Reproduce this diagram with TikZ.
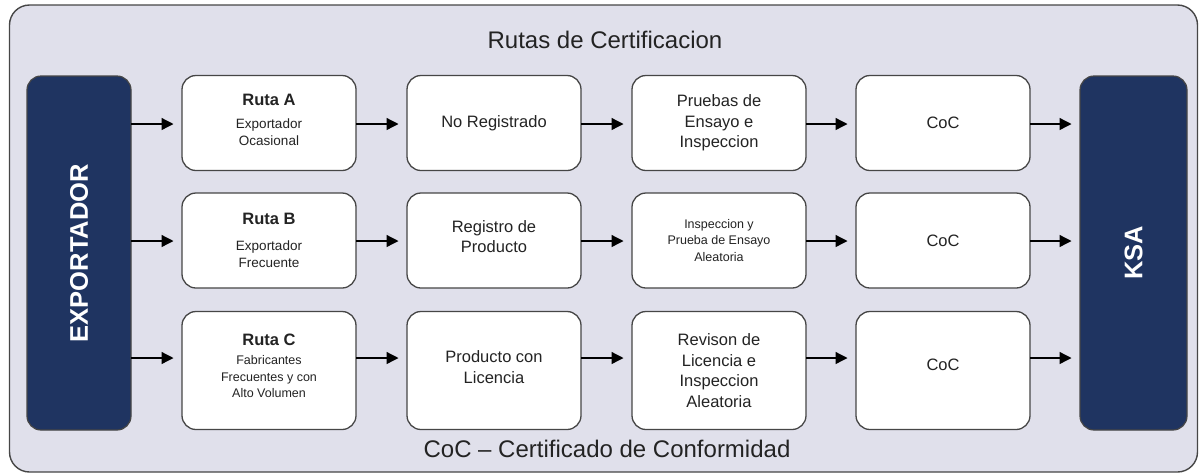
\documentclass[tikz,border=0pt]{standalone}
\usepackage{fontspec}
\setmainfont{Liberation Sans}
\usetikzlibrary{arrows.meta}
\definecolor{navy}{RGB}{31,52,97}
\definecolor{lav}{RGB}{224,224,235}
\definecolor{bord}{RGB}{70,70,70}
\definecolor{txt}{RGB}{35,35,35}
\tikzset{
  frame/.style={draw=bord, fill=lav, line width=1.4pt, rounded corners=20pt, minimum width=1188pt, minimum height=467pt, inner sep=0pt, outer sep=0pt},
  wbox/.style={draw=bord, fill=white, line width=1.3pt, rounded corners=14pt, minimum width=174pt, minimum height=95pt, inner sep=0pt, outer sep=0pt, align=center, text=txt, font=\fontsize{16.5}{20.5}\selectfont},
  tallbox/.style={wbox, minimum height=118pt},
  plain/.style={wbox, draw=none, fill=none},
  nbox/.style={draw=bord, fill=navy, line width=1.2pt, rounded corners=14pt, minimum height=354pt, inner sep=0pt, outer sep=0pt},
  ntext/.style={rotate=90, text=white, font=\bfseries\fontsize{25.5}{30}\selectfont},
  arr/.style={line width=1.3pt, -{Triangle[length=12pt,width=12pt]}, shorten >=8.5pt},
  ttl/.style={text=txt, font=\fontsize{24}{28}\selectfont},
}
\newcommand{\rtfont}{\bfseries\fontsize{16.5}{19}\selectfont}
\newcommand{\subfont}{\mdseries\fontsize{13.5}{16}\selectfont}
\newcommand{\smfont}{\mdseries\fontsize{12.5}{16.5}\selectfont}
\begin{document}
\begin{tikzpicture}[x=1pt,y=-1pt]
\useasboundingbox (0,0) rectangle (1199,475);
\node[frame] (fr) at (603.5,238.5) {};
\node[ttl] (title) at (605,40) {Rutas de Certificacion};
\node[ttl] (foot) at (607,449) {CoC – Certificado de Conformidad};

\node[nbox, minimum width=104pt] (exp) at (79,253) {};
\node[ntext] (expt) at (exp.center) {EXPORTADOR};
\node[nbox, minimum width=107pt] (ksa) at (1133.5,253) {};
\node[ntext] (ksat) at (ksa.center) {KSA};

% row 1
\node[wbox] (ra) at (269,123) {};
\node[plain] (rat) at (269,120) {\rtfont Ruta A\\[2pt]\subfont Exportador\\[-3pt]\subfont Ocasional};
\node[wbox] (a2) at (494,123) {No Registrado};
\node[wbox] (a3) at (719,123) {Pruebas de\\Ensayo e\\Inspeccion};
\node[wbox] (a4) at (943,123) {CoC};
% row 2
\node[wbox] (rb) at (269,240.5) {\rtfont Ruta B\\[5pt]\subfont Exportador\\[-3pt]\subfont Frecuente};
\node[wbox] (b2) at (494,240.5) {};
\node[plain] (b2t) at (494,236.5) {Registro de\\Producto};
\node[wbox] (b3) at (719,240.5) {\smfont Inspeccion y\\[-4pt]\smfont Prueba de Ensayo\\[-4pt]\smfont Aleatoria};
\node[wbox] (b4) at (943,240.5) {CoC};
% row 3
\node[tallbox] (rc) at (269,370.5) {};
\node[plain] (rct) at (269,366) {\rtfont Ruta C\\[-1pt]\smfont Fabricantes\\[-4pt]\smfont Frecuentes y con\\[-4pt]\smfont Alto Volumen};
\node[tallbox] (c2) at (494,370.5) {};
\node[plain] (c2t) at (494,367) {Producto con\\Licencia};
\node[tallbox] (c3) at (719,370.5) {Revison de\\Licencia e\\Inspeccion\\Aleatoria};
\node[tallbox] (c4) at (943,370.5) {};
\node[plain] (c4t) at (943,365) {CoC};

\coordinate (y1) at (0,124);
\coordinate (y2) at (0,241);
\coordinate (y3) at (0,358);

\draw[arr] (exp.east |- y1) -- (ra.west |- y1);
\draw[arr] (ra.east |- y1) -- (a2.west |- y1);
\draw[arr] (a2.east |- y1) -- (a3.west |- y1);
\draw[arr] (a3.east |- y1) -- (a4.west |- y1);
\draw[arr] (a4.east |- y1) -- (ksa.west |- y1);

\draw[arr] (exp.east |- y2) -- (rb.west |- y2);
\draw[arr] (rb.east |- y2) -- (b2.west |- y2);
\draw[arr] (b2.east |- y2) -- (b3.west |- y2);
\draw[arr] (b3.east |- y2) -- (b4.west |- y2);
\draw[arr] (b4.east |- y2) -- (ksa.west |- y2);

\draw[arr] (exp.east |- y3) -- (rc.west |- y3);
\draw[arr] (rc.east |- y3) -- (c2.west |- y3);
\draw[arr] (c2.east |- y3) -- (c3.west |- y3);
\draw[arr] (c3.east |- y3) -- (c4.west |- y3);
\draw[arr] (c4.east |- y3) -- (ksa.west |- y3);
\end{tikzpicture}
\end{document}
